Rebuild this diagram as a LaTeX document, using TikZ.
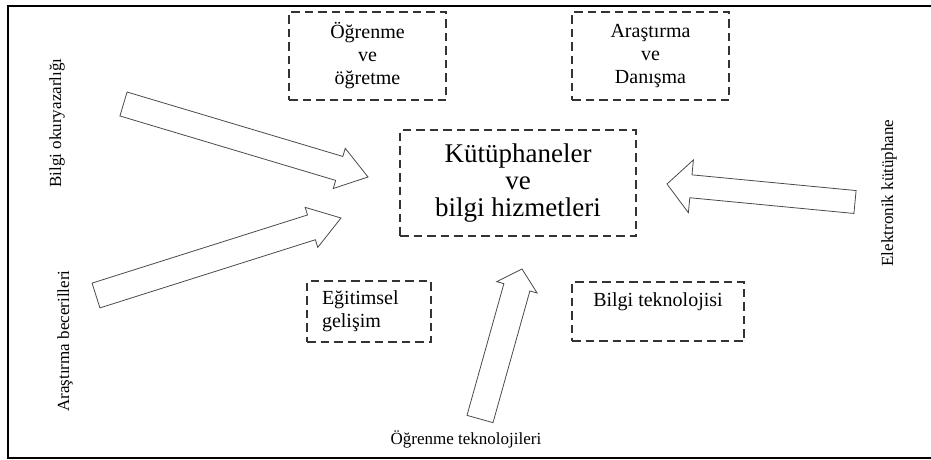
\documentclass[tikz,border=0pt]{standalone}
\usepackage{fontspec}
\setmainfont{Liberation Serif}
\usetikzlibrary{calc}
\definecolor{boxgray}{HTML}{333333}
\definecolor{arrgray}{HTML}{4A4A4A}
\tikzset{
  frameline/.style={line width=1.8pt, black},
  dbox/.style={draw=boxgray, line width=1.3pt, dash pattern=on 8.5pt off 5pt,
     inner sep=0pt, align=center, font=\fontsize{20}{23}\selectfont},
  cbox/.style={dbox, font=\fontsize{27}{27}\selectfont},
  sidelabel/.style={inner sep=0pt, font=\fontsize{17}{19}\selectfont},
  barrow/.style={draw=arrgray, line width=0.8pt, fill=white, line join=miter}
}
% tail, tip, half shaft, half head, head length
\newcommand\blockarrow[5]{%
  \coordinate (#1h) at ($(#2)!#5!(#1)$);
  \draw[barrow] ($(#1)!#3!90:(#2)$) -- ($(#1h)!#3!-90:(#1)$) -- ($(#1h)!#4!-90:(#1)$)
     -- (#2) -- ($(#1h)!#4!90:(#1)$) -- ($(#1h)!#3!90:(#1)$) -- ($(#1)!#3!-90:(#2)$) -- cycle;
}
\begin{document}
\begin{tikzpicture}[x=1pt,y=-1pt]
\useasboundingbox (0,0) rectangle (931,459);
\fill[white] (0,0) rectangle (931,459);
\draw[frameline] (931,6) -- (8,6) -- (8,458) -- (931,458);

% boxes
\node[dbox, minimum width=157pt, minimum height=88pt] (ogr) at (367.5,56) {Öğrenme\\ve\\öğretme};
\node[dbox, minimum width=157pt, minimum height=88pt] (ara) at (650.5,56) {Araştırma\\ve\\Danışma};
\node[cbox, minimum width=236pt, minimum height=106pt] (kut) at (518,183) {Kütüphaneler\\ve\\bilgi hizmetleri};
\node[dbox, align=left, text width=94pt, inner xsep=15pt, minimum width=124pt, minimum height=61pt] (egi) at (369,311.5) {Eğitimsel\\gelişim};
\node[dbox, minimum width=172pt, minimum height=59pt] (bte) at (658,311.5) {Bilgi teknolojisi\\\mbox{}};

% side labels
\node[sidelabel, rotate=90] (lbo) at (57,123) {Bilgi okuryazarlığı};
\node[sidelabel, rotate=90] (lab) at (65,341) {Araştırma becerilleri};
\node[sidelabel, rotate=90] (lek) at (889,193) {Elektronik kütüphane};
\node[sidelabel] (lot) at (466,439) {Öğrenme teknolojileri};

% arrow ends
\coordinate (a1) at (123.5,104); \coordinate (b1) at (368,177);
\coordinate (a2) at (96,295.5);  \coordinate (b2) at (341,218);
\coordinate (a3) at (480,419);   \coordinate (b3) at (522,269);
\coordinate (a4) at (855,202);   \coordinate (b4) at (667,184);

\blockarrow{a1}{b1}{12.5pt}{21pt}{30pt}
\blockarrow{a2}{b2}{13pt}{21pt}{31pt}
\blockarrow{a3}{b3}{13.5pt}{21pt}{19pt}
\blockarrow{a4}{b4}{11.5pt}{26.5pt}{24pt}
\end{tikzpicture}
\end{document}
